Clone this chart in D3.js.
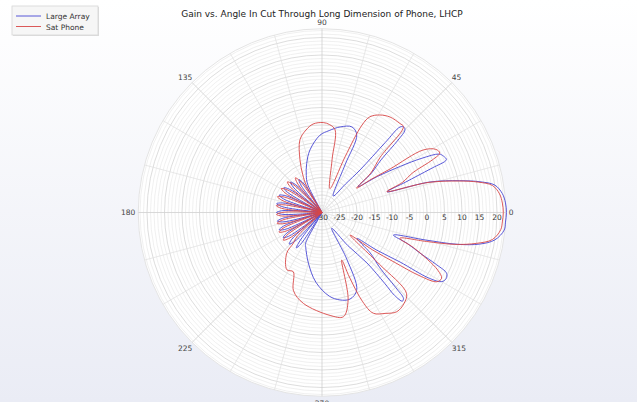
<!DOCTYPE html>
<html><head><meta charset="utf-8">
<script src="https://cdn.jsdelivr.net/npm/d3@7"></script>
<style>
html,body{margin:0;padding:0;background:#fff;}
body{width:637px;height:402px;overflow:hidden;}
text{font-family:"DejaVu Sans",sans-serif;}
</style></head><body>
<svg id="chart" width="637" height="402"></svg>
<script>
// Series: [angle in degrees (0 = boresight, counter-clockwise), gain in dB]
const seriesNames = ["Large Array", "Sat Phone"];
const seriesColors = ["#4646d4", "#d84646"];
const angleTicks = [0, 45, 90, 135, 180, 225, 270, 315];
const gainTicks = [-30, -25, -20, -15, -10, -5, 0, 5, 10, 15, 20];
const chartTitle = "Gain vs. Angle In Cut Through Long Dimension of Phone, LHCP";

const largeArray = [
  [0, 22.7], [3, 22.5], [6, 21.8], [9, 20.0], [11, 16.0], [13, 10.4], [15.8, 2.0], [17.6, -10.5],
  [20, -4.5], [21, -0.9], [22, 4.0], [23, 8.6], [24.8, 8.3], [26.5, 7.4], [28.5, 2.5], [30.5, -4], [33, -11], [35.6, -17.3],
  [38.5, -12], [41.7, -7.4], [43.6, 0], [44.8, 3.4], [46.2, 3.8], [47.6, 3.1], [47.9, -3], [48.2, -13.7], [50.5, -19.5], [55.6, -24.3],
  [64.2, -14.9], [65.9, -5.7], [70.7, -4.1], [78, -5], [85, -6.5], [91.5, -7.9], [100.9, -11.8], [107.3, -15.3], [113, -18.5], [117, -21],
  [119.5, -30],
  [121, -24.5], [122.5, -20], [125, -18.5], [127.5, -20], [129, -24.5], [130.5, -30],
  [132, -23.5], [133.5, -19], [136, -17.5], [138.5, -19], [140, -23.5], [141.5, -30],
  [143, -23], [144.5, -18.5], [147, -17], [149.5, -18.5], [151, -23], [152.5, -30],
  [154, -22.8], [155.5, -18.3], [158, -16.8], [160.5, -18.3], [162, -22.8], [163.5, -30],
  [165, -22.8], [166.5, -18.3], [169, -16.8], [171.5, -18.3], [173, -22.8], [174.5, -30],
  [176, -23], [177.5, -18.5], [180, -17], [-177.5, -18.5], [-176, -23], [-174.5, -30],
  [-173, -23], [-171.5, -18.5], [-169, -17], [-166.5, -18.5], [-165, -23], [-163.5, -30],
  [-162, -22.8], [-160.5, -18.3], [-158, -16.8], [-155.5, -18.3], [-154, -22.8], [-152.5, -30],
  [-151, -22.8], [-149.5, -18.3], [-147, -16.8], [-144.5, -18.3], [-143, -22.8], [-141.5, -30],
  [-140, -23], [-138.5, -18.5], [-136, -17], [-133.5, -18.5], [-132, -23], [-130.5, -30],
  [-129, -23], [-127.5, -19], [-126, -17.5], [-124, -19], [-123, -23], [-122, -30],
  [-118, -20], [-115, -19], [-105, -15], [-95, -10], [-85, -6], [-78.4, -4.5], [-72.1, -4], [-65.9, -5.7], [-62, -15], [-58.5, -24.7],
  [-52, -18], [-48.3, -10.7], [-48.5, -3], [-48.8, 1.5], [-47.8, 4.2], [-46.5, 3.8], [-45.5, 0], [-43.7, -7.1], [-40, -12], [-36.6, -17.6],
  [-34.5, -11], [-32.4, -3.6], [-31.5, 6], [-30, 9.5], [-28, 10.2], [-26, 9.6], [-24.5, 6], [-22.5, 0.3], [-20, -4], [-17.5, -8.6],
  [-14.9, 0.5], [-13.2, 9.8], [-11.3, 16], [-9, 20], [-5.5, 22.3], [-3, 22.5]
];

const satPhone = [
  [0, 21.8], [3, 21.6], [6, 21.0], [9, 19.3], [11, 15.5], [13, 10.0], [15.8, 1.5], [17.9, -10.5],
  [20.5, -5.5], [23.7, -1.6], [25.5, 5], [26.8, 7.7], [29, 7.2], [31.7, 4.0], [32.6, -6.9], [34, -13], [35.1, -17.9],
  [39, -12], [43.5, -7.1], [46.5, 3.8], [48.8, 3.8], [54.5, 3.5], [59.3, 2.4], [63.4, 0.6], [65.4, -2.5], [67.5, -12.8], [71.7, -22.8],
  [79.2, -14.7], [81, -6.1], [85, -4.8], [89.2, -4.3], [95.8, -4.6], [101, -6], [106.9, -8.3], [112.7, -13.7], [117, -17.9],
  [120, -21], [122, -30],
  [123.5, -23.5], [125, -19], [127.5, -17.5], [130, -19], [131.5, -23.5], [133, -30],
  [134.5, -22.8], [136, -18.3], [138.5, -16.8], [141, -18.3], [142.5, -22.8], [144, -30],
  [145.5, -22.5], [147, -18], [149.5, -16.5], [152, -18], [153.5, -22.5], [155, -30],
  [156.5, -22.5], [158, -18], [160.5, -16.5], [163, -18], [164.5, -22.5], [166, -30],
  [167.5, -22.8], [169, -18.3], [171.5, -16.8], [174, -18.3], [175.5, -22.8], [177, -30],
  [178.5, -23], [180, -18.5], [-177.5, -17], [-175, -18.5], [-173.5, -23], [-172, -30],
  [-170.5, -22.8], [-169, -18.3], [-166.5, -16.8], [-164, -18.3], [-162.5, -22.8], [-161, -30],
  [-159.5, -22.5], [-158, -18], [-155.5, -16.5], [-153, -18], [-151.5, -22.5], [-150, -30],
  [-148.5, -22.4], [-147, -17.9], [-144.5, -16.4], [-142, -17.9], [-140.5, -22.4], [-139, -30],
  [-136, -20], [-133, -18],
  [-130.9, -14.6], [-121.5, -10.8], [-115.9, -11.2], [-110, -6.2], [-101.6, -3.5], [-85.5, -0.5], [-78.4, 0.4], [-73.4, -3.9], [-67.5, -15.3],
  [-67, -10], [-65.5, -2], [-63, 2.3], [-58, 4], [-53, 5.5], [-48, 5], [-43.7, 3.4], [-42, -8], [-38.8, -19.7],
  [-36.5, -12], [-34.5, -5], [-33, 3], [-31.1, 8.3], [-28.8, 9.0], [-26.5, 7], [-24, 3], [-21, -2], [-18.3, -6.6],
  [-15.5, 1], [-13.5, 9], [-11.3, 15], [-9, 19.3], [-5.5, 21.3], [-3, 21.6]
];

const series = [largeArray, satPhone];

const W = 637, H = 402;
const cx = 322, cy = 212.5, R = 183.75;
const gMin = -30, gMax = 22.5;

const svg = d3.select("#chart");
const defs = svg.append("defs");
const bg = defs.append("linearGradient").attr("id", "bgGrad").attr("x1", 0).attr("y1", 0).attr("x2", 0).attr("y2", 1);
bg.append("stop").attr("offset", "0%").attr("stop-color", "#ffffff");
bg.append("stop").attr("offset", "100%").attr("stop-color", "#eaecf5");
svg.append("rect").attr("width", W).attr("height", H).attr("fill", "url(#bgGrad)");

const r = d3.scaleLinear().domain([gMin, gMax]).range([0, R]);
const toRad = d => d * Math.PI / 180;

const plot = svg.append("g").attr("transform", `translate(${cx},${cy})`);
plot.append("circle").attr("r", R).attr("fill", "#ffffff").attr("stroke", "#e4e4e4");

// rings: every dB, darker every 5 dB
const rings = d3.range(gMin + 1, gMax, 1);
plot.selectAll("circle.ring").data(rings).join("circle")
  .attr("class", "ring")
  .attr("r", d => r(d))
  .attr("fill", "none")
  .attr("stroke", d => d % 5 === 0 ? "#d4d4d4" : "#ececec")
  .attr("stroke-width", 0.8);

// spokes every 15 degrees
const spokes = d3.range(0, 360, 15);
plot.selectAll("line.spoke").data(spokes).join("line")
  .attr("class", "spoke")
  .attr("x1", 0).attr("y1", 0)
  .attr("x2", d => R * Math.cos(toRad(d)))
  .attr("y2", d => -R * Math.sin(toRad(d)))
  .attr("stroke", d => d % 45 === 0 ? "#cfcfcf" : "#e2e2e2")
  .attr("stroke-width", 0.8);

// angle labels
const angleLab = plot.selectAll("text.ang").data(angleTicks).join("text")
  .attr("class", "ang")
  .attr("font-size", 7.5)
  .attr("fill", "#444")
  .text(d => d);
angleLab.each(function(d) {
  const t = d3.select(this);
  const rr = R + 4;
  const x = rr * Math.cos(toRad(d)), y = -rr * Math.sin(toRad(d));
  let anchor = "middle", base = "middle", dx = 0, dy = 0;
  if (d === 0) { anchor = "start"; dx = -1; }
  else if (d === 180) { anchor = "end"; dx = 1; }
  else if (d === 90) { base = "auto"; dy = 0; }
  else if (d === 270) { base = "hanging"; }
  else if (d === 45) { anchor = "start"; base = "auto"; dx = -3; }
  else if (d === 135) { anchor = "end"; base = "auto"; dx = 3; }
  else if (d === 225) { anchor = "end"; base = "hanging"; dx = 3; }
  else if (d === 315) { anchor = "start"; base = "hanging"; dx = -3; }
  t.attr("x", x + dx).attr("y", y + dy).attr("text-anchor", anchor).attr("dominant-baseline", base);
});

// gain labels along the 0 degree spoke
plot.selectAll("text.gain").data(gainTicks).join("text")
  .attr("class", "gain")
  .attr("x", d => r(d))
  .attr("y", 7.5)
  .attr("text-anchor", "middle")
  .attr("font-size", 7.5)
  .attr("fill", "#333")
  .text(d => d);

// pattern traces
const line = d3.lineRadial()
  .angle(d => Math.PI / 2 - toRad(d[0]))
  .radius(d => r(Math.max(gMin, Math.min(gMax + 1, d[1]))))
  .curve(d3.curveCatmullRomClosed.alpha(0.5));

plot.selectAll("path.trace").data(series).join("path")
  .attr("class", "trace")
  .attr("d", d => line(d))
  .attr("fill", "none")
  .attr("stroke", (d, i) => seriesColors[i])
  .attr("stroke-width", 0.9);

// title
svg.append("text")
  .attr("x", 322).attr("y", 17)
  .attr("text-anchor", "middle")
  .attr("font-size", 9)
  .attr("fill", "#222")
  .text(chartTitle);

// legend
const lg = svg.append("g").attr("transform", "translate(12,6)");
lg.append("rect").attr("x", 1).attr("y", 1).attr("width", 86).attr("height", 29).attr("fill", "#dcdcdc");
lg.append("rect").attr("width", 86).attr("height", 29).attr("fill", "#f6f6f6").attr("stroke", "#d6d6d6").attr("stroke-width", 0.8);
seriesNames.forEach((name, i) => {
  const y = 10 + i * 10.5;
  lg.append("line").attr("x1", 4).attr("x2", 29).attr("y1", y).attr("y2", y)
    .attr("stroke", seriesColors[i]).attr("stroke-width", 0.9);
  lg.append("text").attr("x", 34).attr("y", y + 3).attr("font-size", 7.5).attr("fill", "#333").text(name);
});
</script>
</body></html>
